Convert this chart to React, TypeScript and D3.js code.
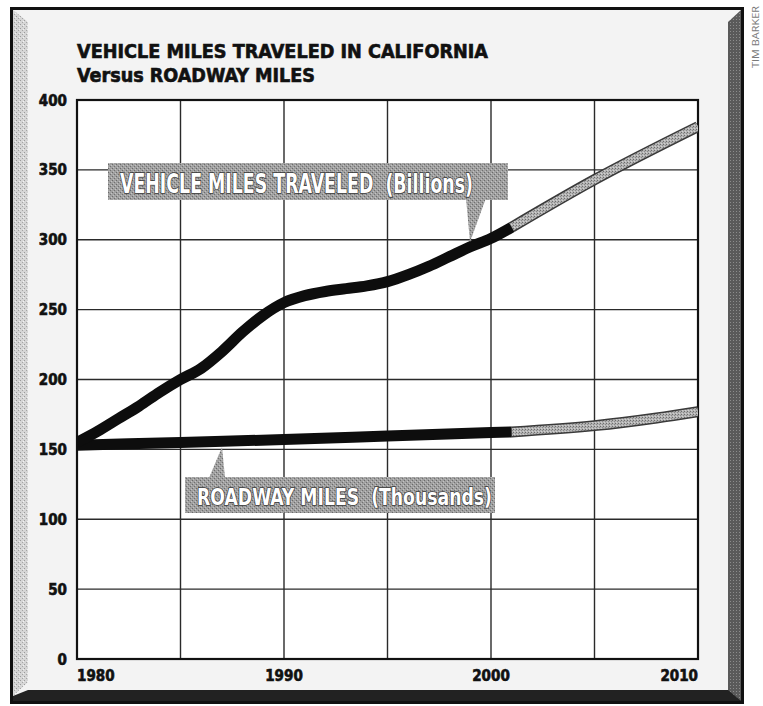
import React from "react";
import * as d3 from "d3";

// ---- data ----
const xTickYears = [1980, 1990, 2000, 2010];
const gridYears = [1985, 1990, 1995, 2000, 2005];
const yTickValues = [0, 50, 100, 150, 200, 250, 300, 350, 400];

const vmtYears = [1980, 1981, 1982, 1983, 1984, 1985, 1986, 1987, 1988, 1989, 1990,
  1991, 1992, 1993, 1994, 1995, 1996, 1997, 1998, 1999, 2000, 2001];
const vmtValues = [155, 163, 172, 181, 191, 200, 208, 220, 234, 246, 255,
  260, 263, 265, 267, 270, 275, 281, 288, 295, 301, 309];
const vmtProjYears = [2001, 2005, 2010];
const vmtProjValues = [309, 343, 381];

const roadYears = [1980, 1985, 1990, 1995, 2000, 2001];
const roadValues = [153, 155, 157, 159.5, 162, 162.5];
const roadProjYears = [2001, 2005, 2008, 2010];
const roadProjValues = [162.5, 167, 172.5, 177];

const titleLine1 = "VEHICLE MILES TRAVELED IN CALIFORNIA";
const titleLine2 = "Versus ROADWAY MILES";
const vmtLabel = "VEHICLE MILES TRAVELED\u00a0\u00a0(Billions)";
const roadLabel = "ROADWAY MILES\u00a0\u00a0(Thousands)";
const credit = "TIM BARKER";

const W = 763;
const H = 706;
const FONT = "'DejaVu Sans Condensed', 'Liberation Sans Narrow', 'DejaVu Sans', sans-serif";

export default function App() {
  const x = d3.scaleLinear().domain([1980, 2010]).range([77, 698]);
  const y = d3.scaleLinear().domain([0, 400]).range([659, 100]);

  const mk = (years: number[]) =>
    d3.line<number>().x((_, i) => x(years[i])).y((d) => y(d)).curve(d3.curveMonotoneX);

  const vmtPath = mk(vmtYears)(vmtValues) || "";
  const vmtProjPath = mk(vmtProjYears)(vmtProjValues) || "";
  const roadPath = mk(roadYears)(roadValues) || "";
  const roadProjPath = mk(roadProjYears)(roadProjValues) || "";

  const [x0, x1] = x.range();
  const [yb, yt] = y.range();

  const heavy = { stroke: "#111", strokeWidth: 0.6 };

  return (
    <svg width={W} height={H} style={{ position: "absolute", left: 0, top: 0 }}>
      <defs>
        <pattern id="stip" width="3" height="3" patternUnits="userSpaceOnUse">
          <rect width="3" height="3" fill="#b3b3b3" />
          <rect x="0" y="0" width="1" height="1" fill="#6d6d6d" />
          <rect x="2" y="1" width="1" height="1" fill="#8a8a8a" />
          <rect x="1" y="2" width="1" height="1" fill="#d0d0d0" />
        </pattern>
        <pattern id="boxStip" width="4" height="4" patternUnits="userSpaceOnUse">
          <rect width="4" height="4" fill="#a0a0a0" />
          <rect x="0" y="0" width="1" height="1" fill="#6a6a6a" />
          <rect x="2" y="2" width="1" height="1" fill="#707070" />
          <rect x="3" y="1" width="1" height="1" fill="#c4c4c4" />
          <rect x="1" y="3" width="1" height="1" fill="#c0c0c0" />
        </pattern>
        <pattern id="leftStip" width="4" height="4" patternUnits="userSpaceOnUse">
          <rect width="4" height="4" fill="#d6d6d6" />
          <rect x="0" y="0" width="1" height="1" fill="#9a9a9a" />
          <rect x="2" y="2" width="1" height="1" fill="#a5a5a5" />
          <rect x="3" y="1" width="1" height="1" fill="#f2f2f2" />
        </pattern>
        <pattern id="rightStip" width="3" height="3" patternUnits="userSpaceOnUse">
          <rect width="3" height="3" fill="#5a5a5a" />
          <rect x="1" y="1" width="1" height="1" fill="#8c8c8c" />
        </pattern>
        <clipPath id="plotClip">
          <rect x={x0} y={yt} width={x1 - x0} height={yb - yt} />
        </clipPath>
      </defs>

      <rect width={W} height={H} fill="#ffffff" />

      {/* frame */}
      <rect x={10} y={7} width={734} height={697} fill="#111" />
      <rect x={13} y={10} width={728} height={686} fill="#f3f3f3" />
      <polygon points="13,10 28,22 28,682 13,696" fill="url(#leftStip)" />
      <polygon points="741,10 741,701 728,693 728,22" fill="url(#rightStip)" />
      <polygon points="13,696 28,690 728,690 741,701 13,701" fill="#222" />

      {/* plot background */}
      <rect x={x0} y={yt} width={x1 - x0} height={yb - yt} fill="#ffffff" />

      {/* grid */}
      {yTickValues.filter((v) => v > 0 && v < 400).map((v) => (
        <line key={"gy" + v} x1={x0} x2={x1} y1={y(v)} y2={y(v)} stroke="#2a2a2a" strokeWidth={1.4} />
      ))}
      {gridYears.map((yr) => (
        <line key={"gx" + yr} x1={x(yr)} x2={x(yr)} y1={yt} y2={yb} stroke="#2a2a2a" strokeWidth={1.4} />
      ))}
      <rect x={x0} y={yt} width={x1 - x0} height={yb - yt} fill="none" stroke="#111" strokeWidth={2.2} />

      {/* series */}
      <g clipPath="url(#plotClip)">
        <path d={vmtProjPath} fill="none" stroke="#3a3a3a" strokeWidth={11} />
        <path d={vmtProjPath} fill="none" stroke="url(#stip)" strokeWidth={8} />
        <path d={roadProjPath} fill="none" stroke="#3a3a3a" strokeWidth={11} />
        <path d={roadProjPath} fill="none" stroke="url(#stip)" strokeWidth={8} />
        <path d={roadPath} fill="none" stroke="#0d0d0d" strokeWidth={11} strokeLinejoin="round" />
        <path d={vmtPath} fill="none" stroke="#0d0d0d" strokeWidth={11} strokeLinejoin="round" />
      </g>

      {/* y tick labels */}
      {yTickValues.map((v) => (
        <text key={"yl" + v} x={67} y={y(v) + 1} textAnchor="end" dominantBaseline="middle"
          fontFamily={FONT} fontWeight="bold" fontSize={15} fill="#111" {...heavy}>{v}</text>
      ))}
      {/* x tick labels */}
      {xTickYears.map((yr, i) => (
        <text key={"xl" + yr} x={x(yr)} y={681}
          textAnchor={i === 0 ? "start" : i === xTickYears.length - 1 ? "end" : "middle"}
          fontFamily={FONT} fontWeight="bold" fontSize={15} fill="#111" {...heavy}>{yr}</text>
      ))}

      {/* title */}
      <text x={77} y={58} fontFamily={FONT} fontWeight="bold" fontSize={19} fill="#111" {...heavy}
        textLength={411} lengthAdjust="spacingAndGlyphs">{titleLine1}</text>
      <text x={77} y={82} fontFamily={FONT} fontWeight="bold" fontSize={19} fill="#111" {...heavy}
        textLength={238} lengthAdjust="spacingAndGlyphs">{titleLine2}</text>

      {/* VMT label */}
      <polygon points="466,198 486,198 470,242" fill="url(#boxStip)" />
      <rect x={108} y={163} width={400} height={37} fill="url(#boxStip)" />
      <text x={120} y={193} fontFamily={FONT} fontWeight="bold" fontSize={26} fill="#ffffff"
        stroke="#3a3a3a" strokeWidth={1.6} paintOrder="stroke"
        textLength={353} lengthAdjust="spacingAndGlyphs">{vmtLabel}</text>

      {/* Roadway label */}
      <polygon points="209,478 225,478 222,447" fill="url(#boxStip)" />
      <rect x={185} y={477} width={310} height={36} fill="url(#boxStip)" />
      <text x={197} y={505} fontFamily={FONT} fontWeight="bold" fontSize={23} fill="#ffffff"
        stroke="#3a3a3a" strokeWidth={1.6} paintOrder="stroke"
        textLength={295} lengthAdjust="spacingAndGlyphs">{roadLabel}</text>

      {/* credit */}
      <text transform="translate(759,68) rotate(-90)" fontFamily="'Open Sans', 'DejaVu Sans', sans-serif"
        fontSize={9.5} fill="#7a7a7a" textLength={62} lengthAdjust="spacingAndGlyphs">{credit}</text>
    </svg>
  );
}
